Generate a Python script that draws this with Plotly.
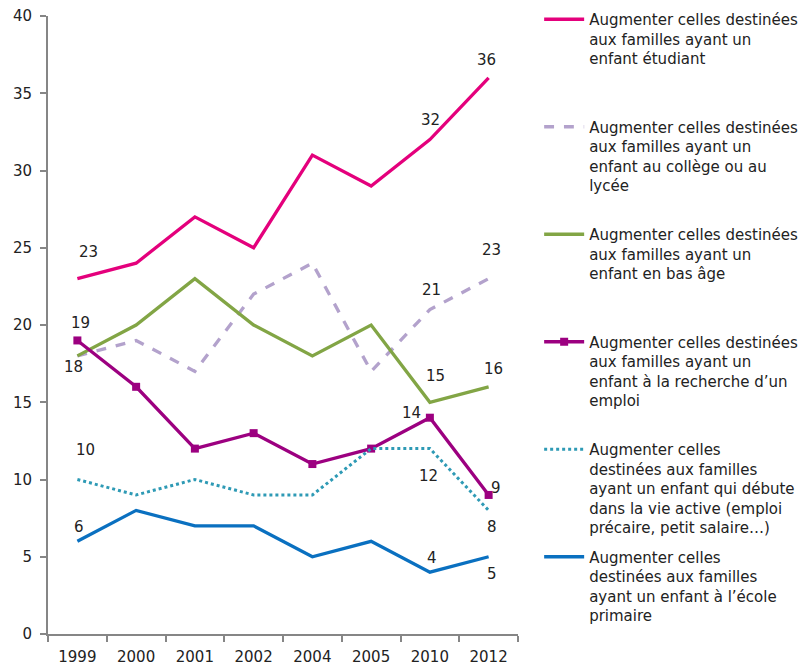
import plotly.graph_objects as go

years = ["1999", "2000", "2001", "2002", "2004", "2005", "2010", "2012"]

etudiant = [23, 24, 27, 25, 31, 29, 32, 36]
college = [18, 19, 17, 22, 24, 17, 21, 23]
bas_age = [18, 20, 23, 20, 18, 20, 15, 16]
emploi = [19, 16, 12, 13, 11, 12, 14, 9]
vie_active = [10, 9, 10, 9, 9, 12, 12, 8]
primaire = [6, 8, 7, 7, 5, 6, 4, 5]

names = [
    "Augmenter celles destinées<br>aux familles ayant un<br>enfant étudiant",
    "Augmenter celles destinées<br>aux familles ayant un<br>enfant au collège ou au<br>lycée",
    "Augmenter celles destinées<br>aux familles ayant un<br>enfant en bas âge",
    "Augmenter celles destinées<br>aux familles ayant un<br>enfant à la recherche d\u2019un<br>emploi",
    "Augmenter celles<br>destinées aux familles<br>ayant un enfant qui débute<br>dans la vie active (emploi<br>précaire, petit salaire\u2026)",
    "Augmenter celles<br>destinées aux familles<br>ayant un enfant à l\u2019école<br>primaire",
]

series = [etudiant, college, bas_age, emploi, vie_active, primaire]
colors = ["#E4007C", "#B3A2CC", "#82A545", "#9C0080", "#2E9AB5", "#0A70C0"]
dashes = ["solid", "dash", "solid", "solid", "dot", "solid"]

# indices labelled per series, with pixel offsets (dx, dy)
label_spec = [
    [(0, 11, 27), (6, 1, 20), (7, -2, 18)],
    [(0, -4, -11), (6, 2, 20), (7, 3, 29)],
    [(6, 6, 26), (7, 5, 18)],
    [(0, 3, 17), (6, -18, 5), (7, 7, 7)],
    [(0, 8, 30), (6, -1, -27), (7, 3, -17)],
    [(0, 2, 14), (6, 2, 14), (7, 3, -17)],
]

FONT = "DejaVu Sans"
fig = go.Figure()

for i, (vals, name, col, dash) in enumerate(zip(series, names, colors, dashes)):
    n_lines = name.count("<br>") + 1
    padded = name + "<br>&nbsp;" * (5 - n_lines)
    fig.add_trace(go.Scatter(
        x=years, y=vals, name=padded, mode="lines+markers" if i == 3 else "lines",
        legendgroup="g%d" % i,
        line=dict(color=col, width=3.3 if dash != "dot" else 3, dash=dash),
        marker=dict(symbol="square", size=8, color=col) if i == 3 else None,
        hoverinfo="skip",
    ))
    for idx, dx, dy in label_spec[i]:
        fig.add_annotation(x=idx, y=vals[idx], text=str(vals[idx]),
                           showarrow=False, xshift=dx, yshift=dy,
                           font=dict(family=FONT, size=15, color="#222222"))

# page body has an 8px default margin: compensate in figure size/margins
fig.update_layout(
    width=803, height=658,
    margin=dict(l=40, r=293, t=8, b=32, autoexpand=False),
    paper_bgcolor="white", plot_bgcolor="white",
    font=dict(family=FONT, size=15, color="#222222"),
    showlegend=True,
    legend=dict(
        x=1.045, y=1.021, xanchor="left", yanchor="top",
        valign="top", font=dict(family=FONT, size=15, color="#222222"),
        traceorder="grouped", tracegroupgap=7,
        itemwidth=40, bgcolor="rgba(0,0,0,0)",
        maxheight=700,
    ),
)
fig.update_xaxes(
    type="category", range=[-0.5, 7.5], tickson="boundaries",
    showline=True, linecolor="#868686", linewidth=2,
    ticks="outside", ticklen=6, tickcolor="#868686", tickwidth=1.5,
    ticklabelstandoff=8, ticklabeloverflow="allow",
    showgrid=False, zeroline=False,
    tickfont=dict(family=FONT, size=15, color="#222222"),
)
fig.update_yaxes(
    range=[0, 40], dtick=5, showline=True, linecolor="#868686", linewidth=2,
    ticks="outside", ticklen=6, tickcolor="#868686", tickwidth=1.5,
    ticklabelstandoff=5, ticklabeloverflow="allow",
    showgrid=False, zeroline=False,
    tickfont=dict(family=FONT, size=15, color="#222222"),
)

fig.write_html("out.html")
